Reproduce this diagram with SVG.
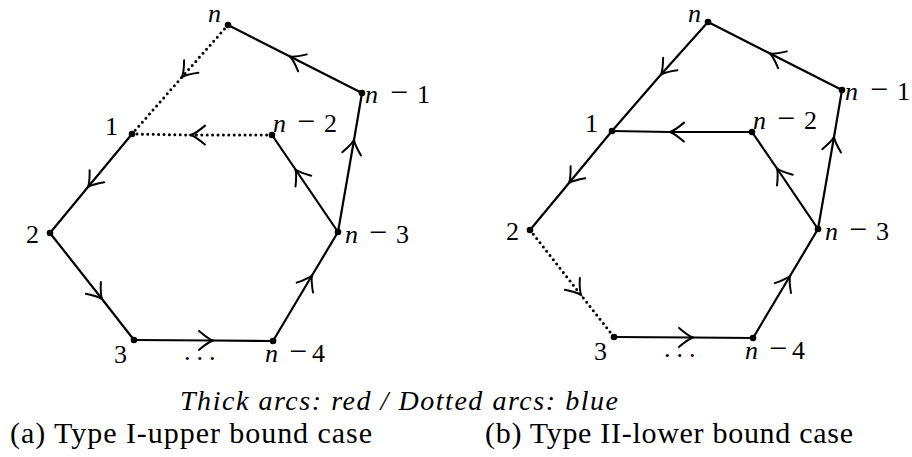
<svg xmlns="http://www.w3.org/2000/svg" width="912" height="457" viewBox="0 0 912 457">
<style>
  .solid { fill: none; stroke: #000; stroke-width: 2.2; marker-mid: url(#arr); }
  .dotted { fill: none; stroke: #000; stroke-width: 3; stroke-linecap: round; stroke-dasharray: 0 5.4; marker-mid: url(#arr); }
  .dot { fill: #000; }
  .lbl { font-family: "Liberation Serif", "Times New Roman", Times, serif; font-size: 26px; fill: #000; }
  .it { font-style: italic; }
  .mn { font-size: 32px; }
  .cap { font-family: "Liberation Serif", "Times New Roman", Times, serif; font-size: 30px; fill: #000; }
  .capi { font-family: "Liberation Serif", "Times New Roman", Times, serif; font-size: 28px; font-style: italic; fill: #000; }
</style>
<defs>
  <marker id="arr" markerUnits="userSpaceOnUse" orient="auto" refX="0" refY="0" markerWidth="30" markerHeight="30" viewBox="-20 -15 30 30" overflow="visible">
    <path d="M -14 -9.5 Q -5 -1.8 0 0 Q -5 1.8 -14 9.5" fill="none" stroke="#000" stroke-width="2" stroke-dasharray="none" stroke-linecap="round"/>
  </marker>
</defs>

<!-- Graph (a) -->
<g id="graph-a">
  <g id="a-edges">
    <path class="dotted" d="M 228 25 L 182 77 L 132 134"/>
    <path class="solid" d="M 362 93 L 290 56.5 L 228 25"/>
    <path class="dotted" d="M 272 135 L 191 135 L 132 134"/>
    <path class="solid" d="M 132 134 L 88 187 L 50 233"/>
    <path class="solid" d="M 50 233 L 102 299 L 134 340"/>
    <path class="solid" d="M 134 340 L 213 340.5 L 273 341"/>
    <path class="solid" d="M 273 341 L 312 275.5 L 338 232"/>
    <path class="solid" d="M 338 232 L 295.5 169.5 L 272 135"/>
    <path class="solid" d="M 338 232 L 354 140 L 362 93"/>
  </g>
  <g id="a-node-n"><circle class="dot" cx="228" cy="25" r="3.3"/><text class="lbl it" x="208" y="22">n</text></g>
  <g id="a-node-n1"><circle class="dot" cx="362" cy="93" r="3.3"/><text class="lbl" y="103"><tspan class="it" x="365">n</tspan><tspan class="mn" x="390">−</tspan><tspan x="417">1</tspan></text></g>
  <g id="a-node-n2"><circle class="dot" cx="272" cy="135" r="3.3"/><text class="lbl" y="132"><tspan class="it" x="273">n</tspan><tspan class="mn" x="297">−</tspan><tspan x="324">2</tspan></text></g>
  <g id="a-node-1"><circle class="dot" cx="132" cy="134" r="3.3"/><text class="lbl" x="105" y="135">1</text></g>
  <g id="a-node-2"><circle class="dot" cx="50" cy="233" r="3.3"/><text class="lbl" x="26" y="243">2</text></g>
  <g id="a-node-n3"><circle class="dot" cx="338" cy="232" r="3.3"/><text class="lbl" y="243"><tspan class="it" x="345">n</tspan><tspan class="mn" x="369">−</tspan><tspan x="396">3</tspan></text></g>
  <g id="a-node-3"><circle class="dot" cx="134" cy="340" r="3.3"/><text class="lbl" x="114" y="363">3</text></g>
  <g id="a-node-n4"><circle class="dot" cx="273" cy="341" r="3.3"/><text class="lbl" y="362"><tspan class="it" x="265">n</tspan><tspan class="mn" x="289">−</tspan><tspan x="312">4</tspan></text></g>
  <text class="lbl" x="184" y="360" letter-spacing="6">...</text>
</g>

<!-- Graph (b) -->
<g id="graph-b" transform="translate(480,-3)">
  <g id="b-edges">
    <path class="solid" d="M 228 25 L 181 77.5 L 132 134"/>
    <path class="solid" d="M 362 93 L 290 56.5 L 228 25"/>
    <path class="solid" d="M 272 135 L 190 135 L 132 134"/>
    <path class="solid" d="M 132 134 L 89 186 L 50 233"/>
    <path class="dotted" d="M 50 233 L 101 298 L 134 340"/>
    <path class="solid" d="M 134 340 L 213 340.5 L 273 341"/>
    <path class="solid" d="M 273 341 L 310 279 L 338 232"/>
    <path class="solid" d="M 338 232 L 297 171.5 L 272 135"/>
    <path class="solid" d="M 338 232 L 354 140 L 362 93"/>
  </g>
  <g id="b-node-n"><circle class="dot" cx="228" cy="25" r="3.3"/><text class="lbl it" x="208" y="25">n</text></g>
  <g id="b-node-n1"><circle class="dot" cx="362" cy="93" r="3.3"/><text class="lbl" y="103"><tspan class="it" x="365">n</tspan><tspan class="mn" x="390">−</tspan><tspan x="417">1</tspan></text></g>
  <g id="b-node-n2"><circle class="dot" cx="272" cy="135" r="3.3"/><text class="lbl" y="132"><tspan class="it" x="273">n</tspan><tspan class="mn" x="297">−</tspan><tspan x="324">2</tspan></text></g>
  <g id="b-node-1"><circle class="dot" cx="132" cy="134" r="3.3"/><text class="lbl" x="105" y="135">1</text></g>
  <g id="b-node-2"><circle class="dot" cx="50" cy="233" r="3.3"/><text class="lbl" x="26" y="243">2</text></g>
  <g id="b-node-n3"><circle class="dot" cx="338" cy="232" r="3.3"/><text class="lbl" y="243"><tspan class="it" x="345">n</tspan><tspan class="mn" x="369">−</tspan><tspan x="396">3</tspan></text></g>
  <g id="b-node-3"><circle class="dot" cx="134" cy="340" r="3.3"/><text class="lbl" x="114" y="363">3</text></g>
  <g id="b-node-n4"><circle class="dot" cx="273" cy="341" r="3.3"/><text class="lbl" y="362"><tspan class="it" x="265">n</tspan><tspan class="mn" x="289">−</tspan><tspan x="312">4</tspan></text></g>
  <text class="lbl" x="184" y="360" letter-spacing="6">...</text>
</g>

<g id="captions">
  <text class="capi" x="180" y="410" textLength="438" lengthAdjust="spacing">Thick arcs: red / Dotted arcs: blue</text>
  <text class="cap" x="10" y="443" textLength="362" lengthAdjust="spacing">(a) Type I-upper bound case</text>
  <text class="cap" x="485" y="443" textLength="368" lengthAdjust="spacing">(b) Type II-lower bound case</text>
</g>
</svg>
